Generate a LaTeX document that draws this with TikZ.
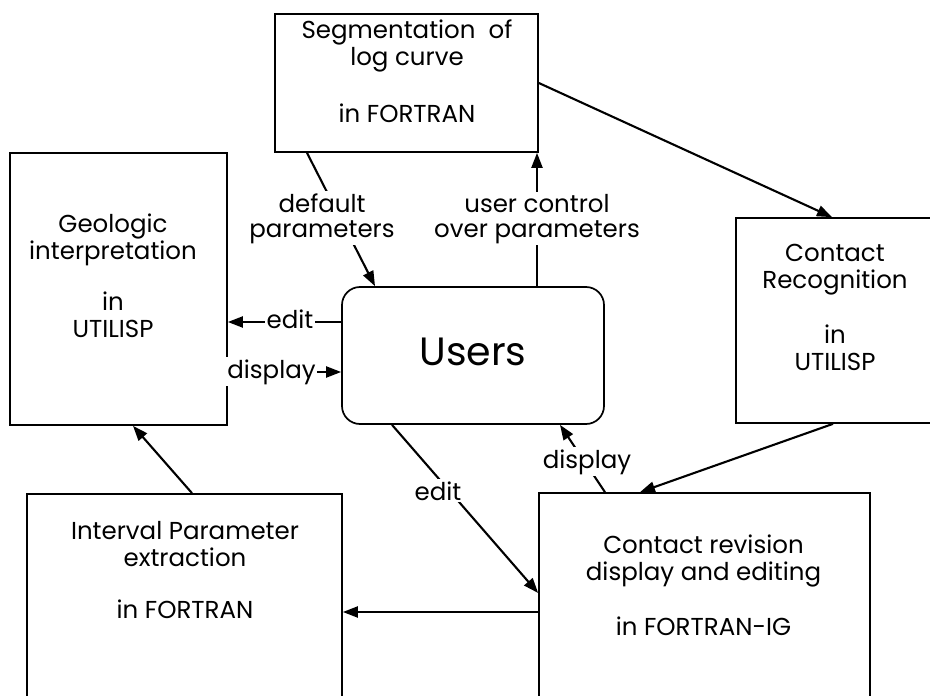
\documentclass[tikz,border=0pt]{standalone}
\usepackage{fontspec}
\setmainfont{Poppins}
\usetikzlibrary{arrows.meta}
\begin{document}
\begin{tikzpicture}[x=1pt,y=-1pt,
  box/.style={draw,line width=1.7pt,inner sep=0pt},
  ubox/.style={box,rounded corners=18pt},
  txt/.style={align=center,inner sep=0pt,anchor=base,font=\fontsize{24.5}{27}\selectfont},
  lbl/.style={align=center,inner sep=2pt,anchor=base,fill=white,font=\fontsize{24.5}{25}\selectfont},
  conn/.style={line width=2.1pt},
  arr/.style={conn,-{Triangle[length=15pt,width=11pt]}}]
\useasboundingbox (0,0) rectangle (930,696);
\fill[white] (0,0) rectangle (930,696);
\clip (0,0) rectangle (930,696);

% boxes
\node[box,minimum width=263pt,minimum height=138pt] (seg) at (406.5,83) {};
\node[box,minimum width=217pt,minimum height=272pt] (geo) at (118.5,289) {};
\node[ubox,minimum width=262pt,minimum height=137pt] (users) at (473,355.5) {};
\node[box,minimum width=210pt,minimum height=205pt] (recog) at (841,320.5) {};
\node[box,minimum width=331pt,minimum height=240pt] (rev) at (704.5,613) {};
\node[box,minimum width=315pt,minimum height=240pt] (intv) at (184.5,614) {};

% box texts (anchored at the baseline of the last line)
\node[txt] (segT) at (407,122) {Segmentation\ \ of\\log curve\\[30pt]in FORTRAN};
\node[txt] (geoT) at (113,337) {Geologic\\interpretation\\[24pt]in\\UTILISP};
\node[txt] (recogT) at (835,370) {Contact\\Recognition\\[28pt]in\\UTILISP};
\node[txt] (revT) at (703.5,635) {Contact revision\\display and editing\\[28pt]in FORTRAN-IG};
\node[txt] (intvT) at (185,618) {Interval Parameter\\extraction\\[25pt]in FORTRAN};
\node[inner sep=0pt,anchor=base,font=\fontsize{39.5}{45}\selectfont] (usersT) at (473,365) {Users};

% connectors
\draw[arr] (seg.east |- 0,83) -- (832,0 |- recog.north);
\draw[arr] (307,0 |- seg.south) -- (375,0 |- users.north);
\draw[arr] (537,0 |- users.north) -- (537,0 |- seg.south);
\draw[arr] (users.west |- 0,322) -- (geo.east |- 0,322);
\draw[arr] (geo.east |- 0,372) -- (users.west |- 0,372);
\draw[arr] (392,0 |- users.south) -- (rev.west |- 0,593);
\draw[arr] (605,0 |- rev.north) -- (560,0 |- users.south);
\draw[arr] (833,0 |- recog.south) -- (640,0 |- rev.north);
\draw[arr] (rev.west |- 0,612) -- (intv.east |- 0,612);
\draw[arr] (192,0 |- intv.north) -- (133,0 |- geo.south);

% connector labels
\node[lbl] (lDef) at (322,237) {default\\parameters};
\node[lbl] (lCtl) at (537,237) {user control\\over parameters};
\node[lbl] (lEdit1) at (290,328) {edit};
\node[lbl,inner xsep=1pt] (lDisp1) at (271.5,378) {display};
\node[lbl] (lEdit2) at (438,500) {edit};
\node[lbl] (lDisp2) at (587,468) {display};
\end{tikzpicture}
\end{document}
